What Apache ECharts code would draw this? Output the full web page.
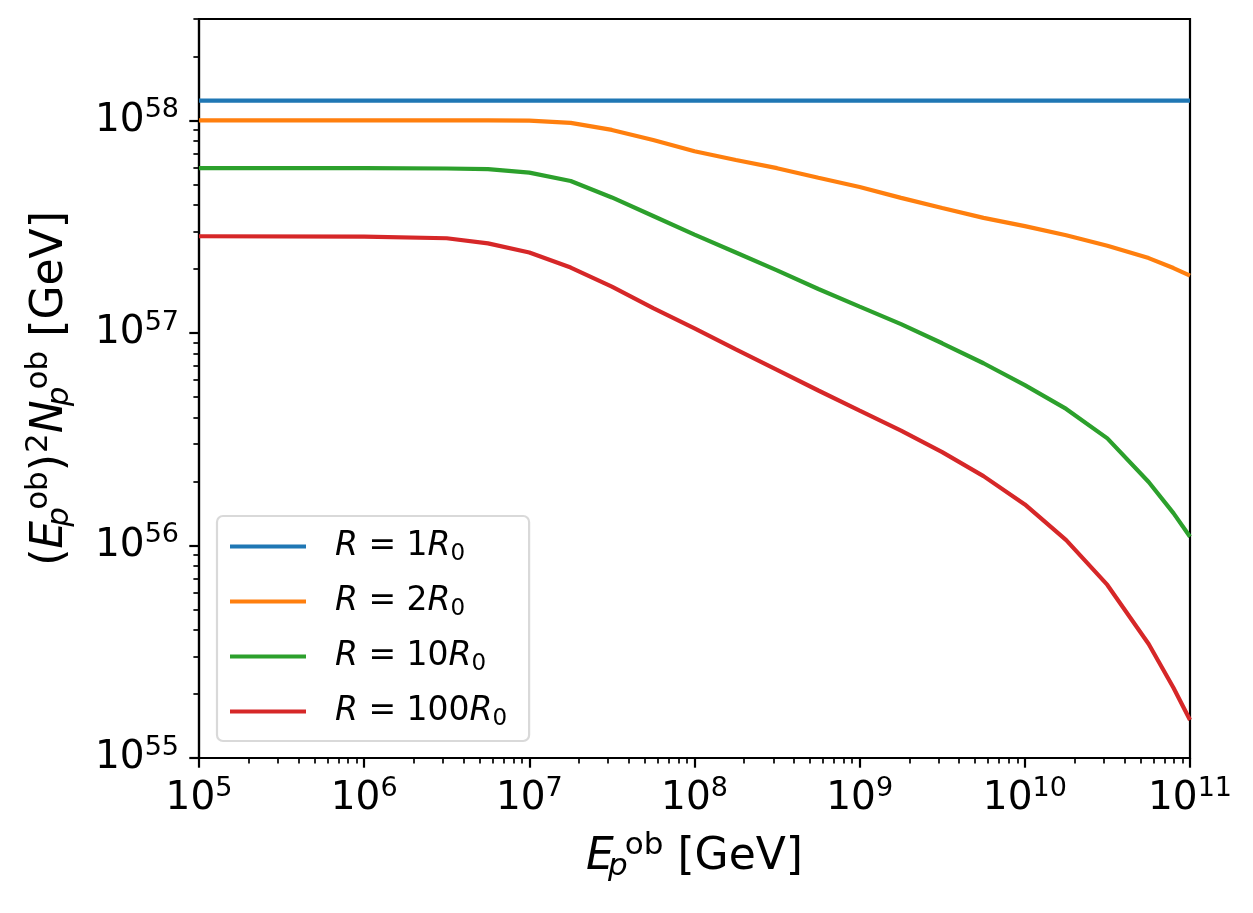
<!DOCTYPE html>
<html>
<head>
<meta charset="utf-8">
<script src="https://cdn.jsdelivr.net/npm/echarts@6/dist/echarts.min.js"></script>
<style>
html, body { margin: 0; padding: 0; background: #fff; }
#chart { width: 1253px; height: 913px; }
</style>
</head>
<body>
<div id="chart"></div>
<script>
// E_p^ob [GeV]
const energy = [1e5, 1e6, 3.16e6, 5.62e6, 1e7, 1.78e7, 3.16e7, 5.62e7, 1e8, 1.78e8, 3.16e8, 5.62e8,
    1e9, 1.78e9, 3.16e9, 5.62e9, 1e10, 1.78e10, 3.16e10, 5.62e10, 7.94e10, 1e11]

// (E_p^ob)^2 N_p^ob [GeV]
const r1 = [1.24e58, 1.24e58, 1.24e58, 1.24e58, 1.24e58, 1.24e58, 1.24e58, 1.24e58, 1.24e58, 1.24e58, 1.24e58,
    1.24e58, 1.24e58, 1.24e58, 1.24e58, 1.24e58, 1.24e58, 1.24e58, 1.24e58, 1.24e58, 1.24e58, 1.24e58]
const r2 = [1e58, 1e58, 1e58, 1e58, 9.97e57, 9.74e57, 9.02e57, 8.08e57, 7.16e57, 6.51e57, 5.96e57,
    5.37e57, 4.86e57, 4.32e57, 3.87e57, 3.48e57, 3.18e57, 2.88e57, 2.57e57, 2.25e57, 2.02e57, 1.86e57]
const r10 = [5.96e57, 5.96e57, 5.94e57, 5.90e57, 5.68e57, 5.19e57, 4.34e57, 3.55e57, 2.90e57, 2.39e57, 1.97e57,
    1.61e57, 1.33e57, 1.10e57, 8.94e56, 7.20e56, 5.68e56, 4.39e56, 3.19e56, 1.99e56, 1.42e56, 1.10e56]
const r100 = [2.85e57, 2.84e57, 2.79e57, 2.64e57, 2.39e57, 2.03e57, 1.65e57, 1.31e57, 1.05e57, 8.36e56, 6.70e56,
    5.36e56, 4.31e56, 3.47e56, 2.75e56, 2.12e56, 1.56e56, 1.06e56, 6.52e55, 3.44e55, 2.14e55, 1.51e55]

const seriesNames = ['1', '2', '10', '100']
const seriesData = [r1, r2, r10, r100]
const colors = ['#1f77b4', '#ff7f0e', '#2ca02c', '#d62728']

// tick values
const xMajor = [1e5, 1e6, 1e7, 1e8, 1e9, 1e10, 1e11]
const yMajor = [1e55, 1e56, 1e57, 1e58]
const xRange = [1e5, 1e11]
const yRange = [1e55, 3e58]

function minorTicks(majors, top) {
    let arr = []
    majors.forEach((m) => {
        for (let k = 2; k <= 9; k++) {
            if (m * k <= top * 1.0001) arr.push(m * k)
        }
    })
    return arr
}
const xMinor = minorTicks(xMajor.slice(0, -1), xRange[1])
const yMinor = minorTicks(yMajor, yRange[1])

function powLabel(v) {
    let e = Math.round(Math.log10(v))
    return `{b|10}{s|${e}}`
}
const tickRich = {
    b: { fontSize: 39, color: '#000' },
    s: { fontSize: 27, color: '#000', padding: [0, 0, 20, 0] },
}
const nameRich = {
    n: { fontSize: 44, color: '#000' },
    i: { fontSize: 44, color: '#000', fontStyle: 'italic' },
    sub: { fontSize: 31, color: '#000', fontStyle: 'italic', padding: [17, 0, 0, 4], width: 0 },
    sup: { fontSize: 31, color: '#000', padding: [0, 0, 25, 7] },
    sup2: { fontSize: 31, color: '#000', padding: [0, 0, 25, 1] },
}

let myChart = echarts.init(document.getElementById('chart'))

const frameLine = { show: true, lineStyle: { color: '#000', width: 2.2 } }

let option = {
    animation: false,
    textStyle: { fontFamily: 'DejaVu Sans' },
    color: colors,
    grid: {
        left: 199, top: 19, width: 991, height: 739,
        show: true, borderColor: '#000', borderWidth: 2.2, backgroundColor: 'transparent',
    },
    legend: {
        orient: 'vertical',
        left: 217, top: 516,
        icon: 'rect',
        itemWidth: 76, itemHeight: 4.2, itemGap: 19,
        padding: [14, 22, 10, 13],
        backgroundColor: '#fff',
        borderColor: '#d9d9d9', borderWidth: 2.2, borderRadius: 6,
        data: seriesNames.map((n) => `R = ${n}R0`),
        formatter: function (name) {
            let n = name.slice(4, -2)
            return `{i|R} = ${n}{i|R}{sub|0}`
        },
        textStyle: {
            fontSize: 33, color: '#000', padding: [0, 0, 0, 24],
            rich: {
                i: { fontSize: 33, fontStyle: 'italic', color: '#000' },
                sub: { fontSize: 23, color: '#000', padding: [16, 0, 0, 0] },
            },
        },
    },
    xAxis: [
        {
            type: 'log', min: xRange[0], max: xRange[1], position: 'bottom',
            axisLine: frameLine,
            axisTick: { customValues: xMajor, length: 9.7, lineStyle: { color: '#000', width: 2.2 } },
            axisLabel: { customValues: xMajor, formatter: powLabel, rich: tickRich, margin: 17 },
            splitLine: { show: false },
            name: '{i|E}{sub|p}{sup|ob}{n| [GeV]}',
            nameLocation: 'middle', nameGap: 72,
            nameTextStyle: { rich: nameRich },
        },
        {
            type: 'log', min: xRange[0], max: xRange[1], position: 'bottom', offset: 0,
            axisLine: { show: false },
            axisTick: { customValues: xMinor, length: 5.6, lineStyle: { color: '#000', width: 1.7 } },
            axisLabel: { show: false },
            splitLine: { show: false },
        },
    ],
    yAxis: [
        {
            type: 'log', min: yRange[0], max: yRange[1], position: 'left',
            axisLine: frameLine,
            axisTick: { customValues: yMajor, length: 9.7, lineStyle: { color: '#000', width: 2.2 } },
            axisLabel: { customValues: yMajor, formatter: powLabel, rich: tickRich, margin: 20 },
            splitLine: { show: false },
            name: '{n|(}{i|E}{sub|p}{sup|ob}{n|)}{sup2|2}{i|N}{sub|p}{sup|ob}{n| [GeV]}',
            nameLocation: 'middle', nameGap: 120, nameRotate: 90,
            nameTextStyle: { rich: nameRich },
        },
        {
            type: 'log', min: yRange[0], max: yRange[1], position: 'left', offset: 0,
            axisLine: { show: false },
            axisTick: { customValues: yMinor, length: 5.6, lineStyle: { color: '#000', width: 1.7 } },
            axisLabel: { show: false },
            splitLine: { show: false },
        },
    ],
    series: seriesData.map((vals, i) => ({
        name: `R = ${seriesNames[i]}R0`,
        type: 'line',
        xAxisIndex: 0,
        yAxisIndex: 0,
        showSymbol: false,
        symbol: 'none',
        lineStyle: { width: 4.2, color: colors[i] },
        itemStyle: { color: colors[i] },
        data: energy.map((e, j) => [e, vals[j]]),
    })),
}

myChart.setOption(option)
</script>
</body>
</html>
